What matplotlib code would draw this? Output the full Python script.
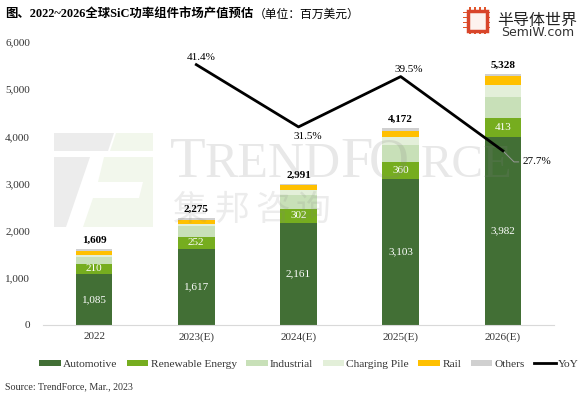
import numpy as np
import matplotlib
matplotlib.use("Agg")
import matplotlib.pyplot as plt
from matplotlib.patches import Polygon, Rectangle

plt.rcParams['font.family'] = ['Liberation Serif', 'Noto Sans CJK SC']

# Datos
years = ["2022", "2023(E)", "2024(E)", "2025(E)", "2026(E)"]
automotive = [1085, 1617, 2161, 3103, 3982]
renewable = [210, 252, 302, 360, 413]
industrial = [150, 220, 297, 353, 431]
charging = [40, 55, 106, 162, 268]
rail = [85, 85, 106, 141, 177]
others = [39, 46, 19, 53, 57]
totals = [1609, 2275, 2991, 4172, 5328]
yoy = [41.4, 31.5, 39.5, 27.7]

W, H = 584, 393


def fx(p):
    return p / W


def fy(p):
    return 1 - p / H


def poly(pts, col, z=0):
    fig.add_artist(Polygon([(fx(a), fy(b)) for a, b in pts], closed=True,
                           transform=fig.transFigure, fc=col, ec="none", zorder=z))


fig = plt.figure(figsize=(5.84, 3.93), dpi=100)

# Marca de agua (el texto queda encima de las barras, semitransparente)
grey = "#ececec"
green = "#f2f7ec"
poly([(54, 133), (114, 133), (108, 151), (54, 151)], grey)
poly([(54, 157), (90, 157), (66, 227), (54, 227)], grey)
poly([(116, 133), (153, 133), (153, 151), (110, 151)], green)
poly([(104, 157), (153, 157), (153, 227), (83, 227), (93, 198), (139, 198), (143, 182), (98, 182)], green)
for txt, px, size in [("T", 170, 42), ("REND", 205, 36), ("F", 340, 42), ("O", 369, 40),
                      ("RCE", 421, 34)]:
    fig.text(fx(px), fy(177), txt, fontsize=size, color="#808080", alpha=0.18, va="baseline", zorder=2.5)
for ch, px in zip("集邦咨询", [173, 214, 255, 296]):
    fig.text(fx(px), fy(220), ch, fontsize=25, color="#808080", alpha=0.15, va="baseline",
             family=['Noto Sans CJK SC'], fontweight="light", zorder=2.5)

ax = fig.add_axes([fx(43), fy(325), fx(511), fy(42) - fy(325)])
ax.set_zorder(2)
ax.patch.set_alpha(0)
x = np.arange(len(years))
series = [
    (automotive, "#426f35", "Automotive"),
    (renewable, "#76ad1f", "Renewable Energy"),
    (industrial, "#c8e0b8", "Industrial"),
    (charging, "#e3efd9", "Charging Pile"),
    (rail, "#ffc000", "Rail"),
    (others, "#d0d0d0", "Others"),
]
bottom = np.zeros(len(years))
handles = []
for vals, col, name in series:
    b = ax.bar(x, vals, 0.36, bottom=bottom, color=col, label=name, zorder=2)
    handles.append(b)
    bottom = bottom + np.array(vals)

# Etiquetas dentro de las barras
for i in range(len(years)):
    ax.text(x[i], automotive[i] / 2, f"{automotive[i]:,}", color="white", ha="center",
            va="center", fontsize=8, zorder=3)
    ax.text(x[i], automotive[i] + renewable[i] / 2, f"{renewable[i]:,}", color="white",
            ha="center", va="center", fontsize=8, zorder=3)
    ax.text(x[i], totals[i] + 90, f"{totals[i]:,}", ha="center", va="bottom", fontsize=8,
            fontweight="bold", zorder=3)

ax.set_xlim(-0.5, 4.5)
ax.set_ylim(0, 6000)
ax.set_yticks(range(0, 6001, 1000))
ax.set_yticklabels([f"{v:,}" for v in range(0, 6001, 1000)])
ax.set_xticks(x)
ax.set_xticklabels(years)
ax.tick_params(length=0, labelsize=8, colors="#333333")
ax.tick_params(axis="y", pad=9.4)
ax.tick_params(axis="x", pad=5)
for s in ["top", "right", "left"]:
    ax.spines[s].set_visible(False)
ax.spines["bottom"].set_color("#d9d9d9")

# Linea YoY en eje secundario
ax2 = ax.twinx()
ax2.set_zorder(3)
ax2.patch.set_alpha(0)
ax2.set_ylim(0, 45)
ax2.axis("off")
line, = ax2.plot(x[1:], yoy, color="black", lw=2.0, label="YoY", zorder=4)
ax2.annotate("41.4%", (1, yoy[0]), xytext=(3.6, 3.6), textcoords="offset points", ha="center", fontsize=8)
ax2.annotate("31.5%", (2, yoy[1]), xytext=(6.5, -8.6), textcoords="offset points", ha="center", va="baseline", fontsize=8)
ax2.annotate("39.5%", (3, yoy[2]), xytext=(5.8, 3.6), textcoords="offset points", ha="center", fontsize=8)
ax2.annotate("27.7%", (4, yoy[3]), xytext=(14.4, -8), textcoords="offset points", ha="left", fontsize=8,
             va="center", arrowprops=dict(arrowstyle="-", color="#999999", lw=0.7, shrinkA=1, shrinkB=0,
                                          connectionstyle="angle,angleA=0,angleB=-45,rad=0"))

leg = fig.legend(handles + [line], [s[2] for s in series] + ["YoY"], loc="lower left",
                 bbox_to_anchor=(fx(39), fy(369)), ncol=7, frameon=False, fontsize=8.2, columnspacing=0.82,
                 handlelength=1.9, handleheight=0.5, handletextpad=0.2, borderpad=0, borderaxespad=0,
                 labelcolor="#333333")

fig.text(fx(5), fy(389), "Source: TrendForce, Mar., 2023", fontsize=7.2, color="#333333", va="baseline")
fig.text(fx(5), fy(17.5), "图、2022~2026全球SiC功率组件市场产值预估", fontsize=8.9, fontweight="bold", va="baseline")
fig.text(fx(254), fy(17.5), "（单位：百万美元）", fontsize=8.5, va="baseline")

# Logo
for k in range(4):
    fig.add_artist(Rectangle((fx(463), fy(13 + k * 5)), fx(27), 1.5 / H, transform=fig.transFigure,
                             fc="#e2562c", ec="none"))
    fig.add_artist(Rectangle((fx(469 + k * 5), fy(34)), 1.5 / W, fy(7) - fy(34),
                             transform=fig.transFigure, fc="#e2562c", ec="none"))
fig.add_artist(Rectangle((fx(468), fy(31)), fx(19), fy(11) - fy(31), transform=fig.transFigure,
                         fc="#fdf3ee", ec="#d8452a", lw=2.5))
fig.text(fx(497), fy(24.5), "半导体世界", fontsize=11.5, color="#222222", va="baseline",
         family=['Noto Sans CJK SC'])
fig.text(fx(501), fy(36), "SemiW.com", fontsize=9, color="#333333", va="baseline",
         family=['DejaVu Sans'])

fig.savefig("out.png", dpi=100)
